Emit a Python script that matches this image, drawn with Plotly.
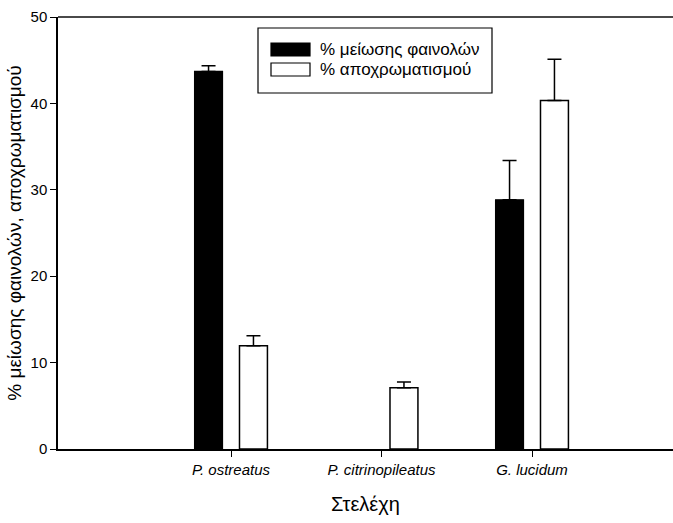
import plotly.graph_objects as go

# Strains and measurements
strains = ["P. ostreatus", "P. citrinopileatus", "G. lucidum"]
strain_pos = [1, 2, 3]
series_names = ["% μείωσης φαινολών", "% αποχρωματισμού"]
phenol_reduction = [43.7, None, 28.85]
phenol_err = [0.65, 0, 4.55]
decolorization = [11.95, 7.1, 40.35]
decolor_err = [1.15, 0.66, 4.77]
y_ticks = [0, 10, 20, 30, 40, 50]

FONT = "Liberation Sans, Arial, sans-serif"
W, H = 673, 523
ML, MR, MT, MB = 58, 0, 17, 74
PW, PH = W - ML - MR, H - MT - MB
UNIT = 150.5          # pixels per category step
FIRST_CAT_PX = 231    # pixel column of the first category


def px(x):
    return (x - ML) / PW


def py(y):
    return 1 - (y - MT) / PH


x_lo = 1 - (FIRST_CAT_PX - ML) / UNIT
x_hi = x_lo + PW / UNIT

fig = go.Figure()
fig.add_trace(go.Bar(
    x=strain_pos, y=phenol_reduction, name=series_names[0],
    marker=dict(color="black", line=dict(color="black", width=1.2)),
    error_y=dict(type="data", array=phenol_err, arrayminus=[0] * 3,
                 symmetric=False, color="black", thickness=1.5, width=7),
    showlegend=False,
))
fig.add_trace(go.Bar(
    x=strain_pos, y=decolorization, name=series_names[1],
    marker=dict(color="white", line=dict(color="black", width=1.5)),
    error_y=dict(type="data", array=decolor_err, arrayminus=[0] * 3,
                 symmetric=False, color="black", thickness=1.5, width=7),
    showlegend=False,
))

# Legend box drawn as shapes + text; top frame line in dark grey
shapes = [
    dict(type="line", xref="paper", yref="paper", x0=0, x1=1, y0=1, y1=1,
         line=dict(color="#4a4a4a", width=2)),
    dict(type="rect", xref="paper", yref="paper",
         x0=px(258), x1=px(492), y0=py(93), y1=py(28),
         line=dict(color="black", width=1.2), fillcolor="white", layer="below"),
    dict(type="rect", xref="paper", yref="paper",
         x0=px(271), x1=px(310), y0=py(56), y1=py(43),
         line=dict(color="black", width=1.2), fillcolor="black"),
    dict(type="rect", xref="paper", yref="paper",
         x0=px(271), x1=px(310), y0=py(76), y1=py(63),
         line=dict(color="black", width=1.2), fillcolor="white"),
]
annotations = [
    dict(xref="paper", yref="paper", x=px(318), y=py(49.5), text=series_names[0],
         showarrow=False, xanchor="left", yanchor="middle",
         font=dict(family=FONT, size=17, color="black")),
    dict(xref="paper", yref="paper", x=px(318), y=py(69.5), text=series_names[1],
         showarrow=False, xanchor="left", yanchor="middle",
         font=dict(family=FONT, size=17, color="black")),
]

fig.update_layout(
    width=W, height=H,
    margin=dict(l=ML, r=MR, t=MT, b=MB, pad=0, autoexpand=False),
    paper_bgcolor="white", plot_bgcolor="white",
    barmode="group", bargap=0.403, bargroupgap=0.378,
    font=dict(family=FONT, color="black"),
    shapes=shapes, annotations=annotations,
    xaxis=dict(
        range=[x_lo, x_hi],
        tickmode="array", tickvals=strain_pos,
        ticktext=["<i>%s</i>" % s for s in strains],
        ticks="outside", ticklen=6, tickwidth=1.2, tickcolor="black",
        tickfont=dict(family=FONT, size=15, color="black"),
        showline=True, linecolor="black", linewidth=1.5, mirror=False,
        showgrid=False, zeroline=False, automargin=False,
        title=dict(text="Στελέχη", font=dict(family=FONT, size=20, color="black"),
                   standoff=20),
    ),
    yaxis=dict(
        range=[0, 50],
        tickmode="array", tickvals=y_ticks,
        ticks="outside", ticklen=6, tickwidth=1.2, tickcolor="black",
        tickfont=dict(family=FONT, size=15, color="black"),
        showline=True, linecolor="black", linewidth=1.5, mirror=False,
        showgrid=False, zeroline=False, automargin=False,
        title=dict(text="% μείωσης φαινολών, αποχρωματισμού",
                   font=dict(family=FONT, size=19, color="black"), standoff=4),
    ),
)

fig.write_html("out.html")
